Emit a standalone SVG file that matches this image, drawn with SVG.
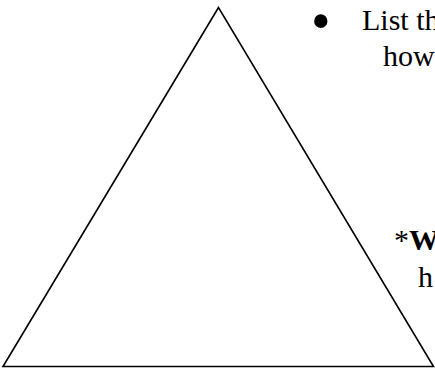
<svg xmlns="http://www.w3.org/2000/svg" width="435" height="368" viewBox="0 0 435 368">
<style>
.t{font-family:"Liberation Serif","Times New Roman",serif;font-size:30px;fill:#000}
.b{font-weight:bold}
</style>
<rect width="435" height="368" fill="#fff"/>
<g id="triangle">
<polygon points="218.5,7.5 3,366.5 433.5,366.5" fill="none" stroke="#000" stroke-width="1.6" stroke-linejoin="miter"/>
</g>
<g id="text1">
<text class="t" x="311" y="40" style="font-size:56px">•</text>
<text class="t" x="362" y="30">List th</text>
<text class="t" x="383" y="66">how</text>
</g>
<g id="text2">
<text class="t" x="394" y="250">*<tspan class="b">W</tspan></text>
<text class="t" x="418" y="287">h</text>
</g>
</svg>
